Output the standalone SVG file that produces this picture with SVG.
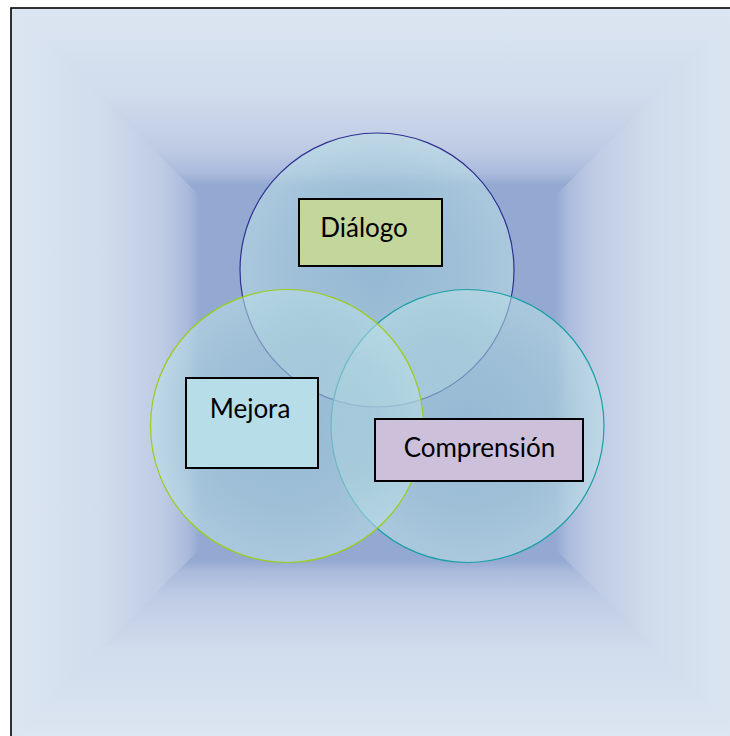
<svg xmlns="http://www.w3.org/2000/svg" width="730" height="736" viewBox="0 0 730 736">
  <defs>
    <linearGradient id="gT" gradientUnits="userSpaceOnUse" x1="0" y1="8" x2="0" y2="185">
      <stop offset="0" stop-color="#DCE6F2"/><stop offset="0.5" stop-color="#D0DBEC"/><stop offset="0.8" stop-color="#BECBE4"/><stop offset="0.93" stop-color="#ABBBDC"/><stop offset="1" stop-color="#93A9D1"/>
    </linearGradient>
    <linearGradient id="gB" gradientUnits="userSpaceOnUse" x1="0" y1="737" x2="0" y2="560">
      <stop offset="0" stop-color="#DCE6F2"/><stop offset="0.5" stop-color="#D0DBEC"/><stop offset="0.8" stop-color="#BECBE4"/><stop offset="0.93" stop-color="#ABBBDC"/><stop offset="1" stop-color="#93A9D1"/>
    </linearGradient>
    <linearGradient id="gL" gradientUnits="userSpaceOnUse" x1="11" y1="0" x2="200" y2="0">
      <stop offset="0" stop-color="#DCE6F2"/><stop offset="0.5" stop-color="#D0DBEC"/><stop offset="0.8" stop-color="#BECBE4"/><stop offset="0.93" stop-color="#ABBBDC"/><stop offset="1" stop-color="#93A9D1"/>
    </linearGradient>
    <linearGradient id="gR" gradientUnits="userSpaceOnUse" x1="744" y1="0" x2="555" y2="0">
      <stop offset="0" stop-color="#DCE6F2"/><stop offset="0.5" stop-color="#D0DBEC"/><stop offset="0.8" stop-color="#BECBE4"/><stop offset="0.93" stop-color="#ABBBDC"/><stop offset="1" stop-color="#93A9D1"/>
    </linearGradient>
    <radialGradient id="gC" cx="0.5" cy="0.5" r="0.5">
      <stop offset="0" stop-color="#98C4D5"/><stop offset="0.6" stop-color="#A6CEDB"/><stop offset="1" stop-color="#BADDE5"/>
    </radialGradient>
  </defs>
  <style>
    .circ { fill: url(#gC); fill-opacity: 0.6; stroke-width: 1.2; }
    .box { stroke: #000; stroke-width: 2; }
    .lbl { font-family: Lato, "Open Sans", "Liberation Sans", sans-serif; font-size: 26px; fill: #000; }
  </style>
  <g id="background">
    <rect x="11" y="8" width="740" height="372" fill="url(#gT)"/>
    <rect x="11" y="366" width="740" height="382" fill="url(#gB)"/>
    <polygon points="11,8 377.5,372.5 11,737" fill="url(#gL)"/>
    <polygon points="744,8 377.5,372.5 744,737" fill="url(#gR)"/>
    <rect x="11" y="8" width="740" height="740" fill="none" stroke="#000" stroke-width="1.6"/>
  </g>
  <g id="circle-dialogo">
    <circle class="circ" cx="377" cy="270" r="137" stroke="#2E3192"/>
  </g>
  <g id="circle-comprension">
    <circle class="circ" cx="467.5" cy="426" r="136.5" stroke="#1A9FA6"/>
  </g>
  <g id="circle-mejora">
    <circle class="circ" cx="287" cy="426" r="136.5" stroke="#9ACD1A"/>
  </g>
  <g id="connectors"></g>
  <g id="node-dialogo">
    <rect class="box" x="299" y="199" width="143" height="67" fill="#C3D69B"/>
    <text class="lbl" x="364" y="237" text-anchor="middle">Diálogo</text>
  </g>
  <g id="node-mejora">
    <rect class="box" x="186" y="378" width="132" height="90" fill="#B7DDE8"/>
    <text class="lbl" x="250" y="418" text-anchor="middle">Mejora</text>
  </g>
  <g id="node-comprension">
    <rect class="box" x="375" y="419" width="208" height="62" fill="#CCC0DA"/>
    <text class="lbl" x="479.5" y="457" text-anchor="middle">Comprensión</text>
  </g>
</svg>
